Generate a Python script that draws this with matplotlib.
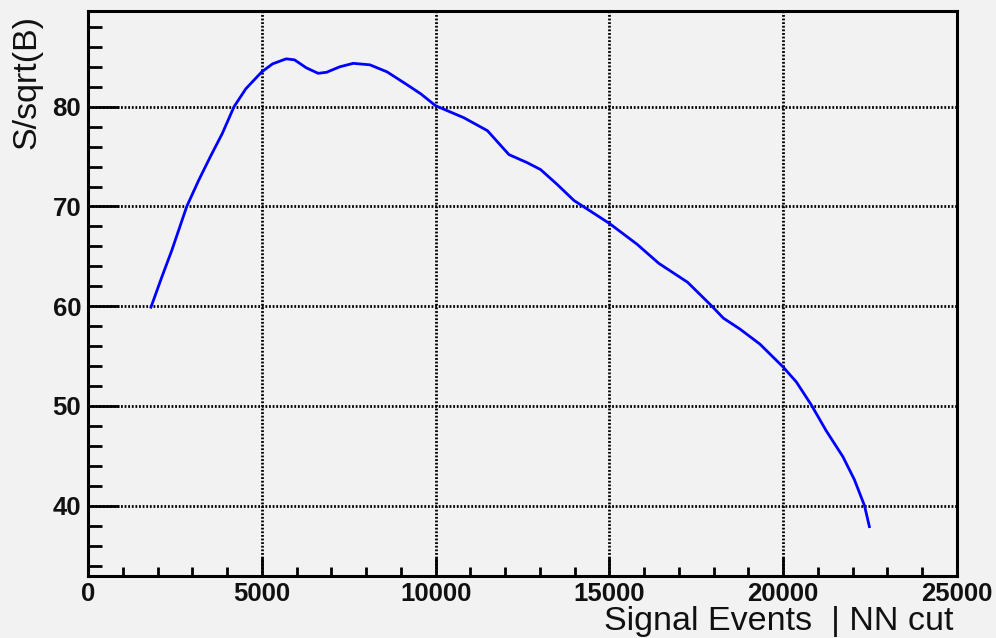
import matplotlib
matplotlib.use("Agg")
import matplotlib.pyplot as plt
from matplotlib.ticker import MultipleLocator

plt.rcParams['font.family'] = ['Liberation Sans', 'DejaVu Sans']

# S/sqrt(B) versus number of signal events left after the NN cut
signal_events = [1810, 2120, 2410, 2840, 3180, 3520, 3860, 4200, 4540, 5000,
                 5310, 5700, 5940, 6280, 6620, 6860, 7240, 7630, 8110, 8600,
                 9180, 9570, 10000, 10810, 11490, 12110, 12630, 13020, 13500,
                 13980, 15000, 15800, 16420, 17250, 17950, 18280, 18760, 19330,
                 20000, 20380, 20810, 21240, 21720, 22050, 22340, 22480]
significance = [59.9, 62.9, 65.6, 70.0, 72.6, 75.0, 77.3, 80.0, 81.8, 83.5,
                84.3, 84.8, 84.7, 83.9, 83.35, 83.45, 84.0, 84.35, 84.2, 83.5,
                82.2, 81.3, 80.1, 78.9, 77.6, 75.2, 74.4, 73.7, 72.2,
                70.6, 68.3, 66.2, 64.3, 62.4, 60.0, 58.8, 57.7, 56.2,
                53.9, 52.4, 50.1, 47.5, 44.9, 42.6, 40.0, 37.9]

x_ticks = [0, 5000, 10000, 15000, 20000, 25000]
y_ticks = [40, 50, 60, 70, 80]

bg = '#f2f2f2'
fig = plt.figure(figsize=(9.96, 6.38), dpi=100, facecolor=bg)
ax = fig.add_axes([0.0884, 0.0972, 0.8724, 0.8856], facecolor=bg)

ax.plot(signal_events, significance, color='#0000ff', lw=2.0, zorder=3,
        solid_joinstyle='round')

ax.set_xlim(0, 25000)
ax.set_ylim(32.95, 89.6)
ax.set_xticks(x_ticks)
ax.set_yticks(y_ticks)
ax.xaxis.set_minor_locator(MultipleLocator(1000))
ax.yaxis.set_minor_locator(MultipleLocator(2))

ax.grid(True, which='major', color='black', linestyle=(0, (0.65, 0.65)), lw=2.0, zorder=1)

for s in ax.spines.values():
    s.set_linewidth(2.2)
    s.set_color('black')

ax.tick_params(axis='both', which='both', direction='in', top=False, right=False,
               width=2.0, color='black')
ax.tick_params(axis='x', which='major', length=13.5, pad=4)
ax.tick_params(axis='x', which='minor', length=6.5)
ax.tick_params(axis='y', which='major', length=22, pad=5)
ax.tick_params(axis='y', which='minor', length=10)

for lab in ax.get_xticklabels() + ax.get_yticklabels():
    lab.set_fontsize(18.5)
    lab.set_fontweight('bold')
    lab.set_color('#111111')

fig.text(0.027, 0.977, 'S/sqrt(B)', rotation=90, ha='center', va='top',
         fontsize=24.5, color='#111111')
fig.text(0.957, 0.0125, 'Signal Events  | NN cut', ha='right', va='baseline',
         fontsize=24.5, color='#111111')

fig.savefig('out.png', dpi=100, facecolor=bg)
